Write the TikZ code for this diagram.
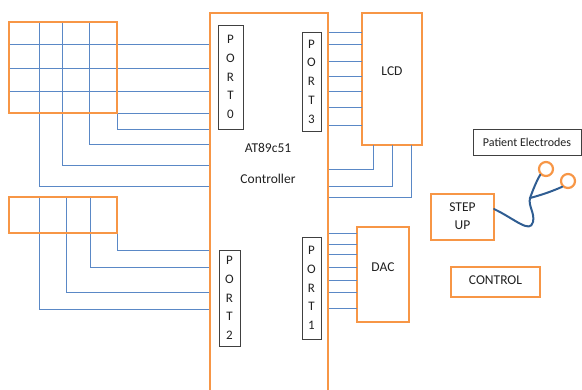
\documentclass[tikz,border=0pt]{standalone}
\usepackage{fontspec}
\setmainfont{Carlito}
\definecolor{orng}{HTML}{F79646}
\definecolor{wire}{HTML}{5A88C6}
\definecolor{cablec}{HTML}{2F5D92}
\definecolor{portc}{HTML}{404040}
\definecolor{txt}{HTML}{202020}
\begin{document}
\begin{tikzpicture}[x=1pt,y=-1pt,
  obox/.style={draw=orng,line width=2.4pt,inner sep=0pt,outer sep=0pt},
  portbox/.style={draw=portc,line width=0.9pt,inner sep=0pt,outer sep=0pt,align=center,
     text=txt,font=\fontsize{13}{18.75}\selectfont},
  wireln/.style={draw=wire,line width=0.9pt},
  cable/.style={draw=cablec,line width=2pt,line cap=round},
  lbl/.style={font=\fontsize{13.5}{18}\selectfont,align=center,inner sep=0pt,text=txt}]
\useasboundingbox (0,0) rectangle (582,389);
\clip (0,0) rectangle (582,389);
% boxes
\node[obox,minimum width=108pt,minimum height=91pt] (kp1) at (63,67.5) {};
\node[obox,minimum width=108pt,minimum height=36pt] (kp2) at (63,215) {};
\node[obox,minimum width=118pt,minimum height=384pt] (ctrl) at (269,205) {};
\node[obox,minimum width=60pt,minimum height=132pt] (lcd) at (392,79) {};
\node[obox,minimum width=52pt,minimum height=95pt] (dac) at (383,274.5) {};
\node[obox,minimum width=63pt,minimum height=46pt] (step) at (462.5,217) {};
\node[obox,minimum width=89pt,minimum height=30pt] (ctl) at (495.5,282) {};
\node[draw=portc,line width=0.9pt,minimum width=108pt,minimum height=26pt,inner sep=0pt,
      text=txt,font=\fontsize{12}{14}\selectfont] (pat) at (527,142) {Patient Electrodes};
\node[draw=orng,line width=2.2pt,circle,minimum size=14pt,inner sep=0pt] (e1) at (546,169) {};
\node[draw=orng,line width=2.2pt,circle,minimum size=14pt,inner sep=0pt] (e2) at (568,181) {};
% labels
\node[lbl] (lcdt) at (392,71) {LCD};
\node[lbl] (dact) at (383,267) {DAC};
\node[lbl] (stept) at (462.5,216) {STEP\\UP};
\node[lbl] (ctlt) at (495.5,280) {CONTROL};
\node[lbl] (at) at (268,148) {AT89c51};
\node[lbl] (con) at (268,179) {Controller};
% ports
\node[portbox,minimum width=25pt,minimum height=104pt] (p0) at (230.5,77) {P\\O\\R\\T\\0};
\node[portbox,minimum width=19pt,minimum height=99pt] (p3) at (311.5,81.5) {P\\O\\R\\T\\3};
\node[portbox,minimum width=21pt,minimum height=96pt] (p2) at (229.5,298) {P\\O\\R\\T\\2};
\node[portbox,minimum width=19pt,minimum height=102pt] (p1) at (311.5,288) {P\\O\\R\\T\\1};
% keypad 1 wiring
\foreach \y in {44,68,91} \draw[wireln] (kp1.west |- 0,\y) -- (ctrl.west |- 0,\y);
\draw[wireln] (kp1.south east) -- (ctrl.west |- kp1.south east);
\draw[wireln] (kp1.south east) -- (117,129) -- (ctrl.west |- 0,129);
\draw[wireln] (kp1.north -| 89,0) -- (89,144) -- (ctrl.west |- 0,144);
\draw[wireln] (kp1.north -| 62,0) -- (62,165) -- (ctrl.west |- 0,165);
\draw[wireln] (kp1.north -| 39,0) -- (39,186) -- (ctrl.west |- 0,186);
% keypad 2 wiring
\draw[wireln] (kp2.south east) -- (117,250) -- (ctrl.west |- 0,250);
\draw[wireln] (kp2.north -| 90,0) -- (90,267) -- (ctrl.west |- 0,267);
\draw[wireln] (kp2.north -| 66,0) -- (66,292) -- (ctrl.west |- 0,292);
\draw[wireln] (kp2.north -| 39,0) -- (39,309) -- (ctrl.west |- 0,309);
% LCD wiring
\foreach \y in {32,44,61,76,91,107,125} \draw[wireln] (ctrl.east |- 0,\y) -- (lcd.west |- 0,\y);
\draw[wireln] (lcd.south -| 373,0) -- (373,169) -- (ctrl.east |- 0,169);
\draw[wireln] (lcd.south -| 392,0) -- (392,186) -- (ctrl.east |- 0,186);
\draw[wireln] (lcd.south -| 411,0) -- (411,197) -- (ctrl.east |- 0,197);
% DAC wiring
\foreach \y in {233,244,254,267,280,292,308} \draw[wireln] (ctrl.east |- 0,\y) -- (dac.west |- 0,\y);
% redraw borders on top of wires
\node[obox,minimum width=118pt,minimum height=384pt] at (269,205) {};
\node[obox,minimum width=108pt,minimum height=91pt] at (63,67.5) {};
\node[obox,minimum width=108pt,minimum height=36pt] at (63,215) {};
% cable
\coordinate (j) at (530,198);
\draw[cable] (step.east |- 0,209) .. controls (515,219) and (530,234) .. (533,222)
   .. controls (535,213) and (528,206) .. (j);
\draw[cable] (j) .. controls (533,190) and (536,182) .. (e1.south west);
\draw[cable] (j) .. controls (545,194) and (555,190) .. (e2.south west);
\end{tikzpicture}
\end{document}
